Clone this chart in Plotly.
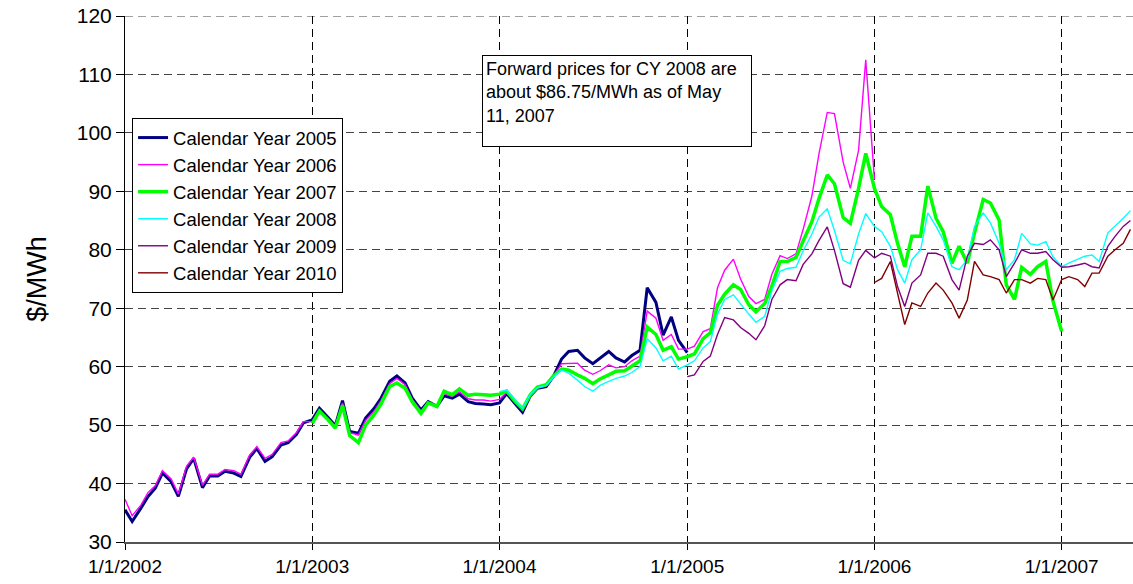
import pandas as pd
import plotly.graph_objects as go

# semi-monthly forward prices ($/MWh) (1st and 15th of each month)
cy2005_start = "2002-01-01"
cy2005 = [
    35.5, 33.5, 35.8, 37.8, 39.2, 41.8, 40.3, 37.8, 42.5, 44.3, 39.3, 41.3,
    41.3, 42.1, 41.8, 41.2, 44.5, 46.0, 43.8, 44.6, 46.6, 47.0, 48.4, 50.4,
    50.9, 52.9, 51.3, 49.9, 54.2, 48.9, 48.6, 51.2, 52.8, 54.6, 57.5, 58.4,
    57.2, 54.6, 52.6, 54.0, 53.2, 55.0, 54.6, 55.3, 54.0, 53.7, 53.6, 53.5,
    53.8, 55.4, 53.6, 52.2, 55.0, 56.3, 56.6, 58.3, 61.3, 62.6, 62.8, 61.5,
    60.5, 61.4, 62.6, 61.5, 60.8, 61.9, 62.8, 73.5, 71.0, 65.4, 68.5, 64.5,
    62.4,
]

cy2006_start = "2002-01-01"
cy2006 = [
    37.3, 34.5, 36.3, 38.5, 39.6, 42.2, 40.8, 38.2, 43.0, 44.5, 39.7, 41.6,
    41.6, 42.4, 42.2, 41.6, 44.9, 46.3, 44.3, 45.0, 47.0, 47.3, 48.7, 50.6,
    50.6, 52.6, 51.1, 49.8, 53.8, 48.7, 48.3, 50.8, 52.3, 54.2, 57.1, 58.0,
    56.9, 54.4, 52.4, 53.9, 53.2, 55.4, 54.9, 55.7, 54.5, 54.3, 54.3, 54.1,
    54.4, 55.6, 53.8, 52.5, 55.0, 56.4, 56.7, 58.3, 60.5, 60.5, 60.6, 59.4,
    58.7, 59.3, 60.3, 59.8, 60.0, 61.0, 61.8, 69.5, 68.3, 64.5, 65.5, 63.0,
    63.0, 63.5, 66.0, 66.5, 73.5, 76.5, 78.4, 75.0, 72.0, 70.8, 71.5, 75.8,
    79.0, 78.5, 79.3, 83.5, 89.2, 96.5, 103.5, 103.3, 95.0, 90.5, 97.0, 112.5,
    92.0,
]

cy2007_start = "2003-01-01"
cy2007 = [
    50.3, 52.4, 50.9, 49.5, 53.4, 48.2, 47.0, 50.0, 51.7, 53.6, 56.6, 57.2,
    56.3, 54.0, 52.0, 53.8, 53.2, 55.8, 55.2, 56.2, 55.1, 55.3, 55.2, 55.1,
    55.3, 55.8, 54.0, 52.8, 55.2, 56.5, 56.9, 58.4, 59.6, 59.4, 58.6, 58.0,
    57.1, 57.9, 58.6, 59.2, 59.3, 60.1, 61.0, 66.8, 65.5, 62.8, 63.4, 61.3,
    61.7, 62.2, 64.8, 65.8, 70.5, 72.4, 74.0, 73.2, 70.6, 69.4, 70.8, 73.8,
    78.0, 78.0, 78.7, 81.5, 84.8, 88.8, 92.8, 91.3, 85.5, 84.5, 90.5, 96.5,
    90.5, 87.4, 86.0, 81.1, 77.1, 82.3, 82.3, 90.9, 85.4, 83.1, 77.7, 80.6,
    77.7, 82.9, 88.6, 88.0, 85.1, 74.0, 71.5, 77.0, 75.8, 77.1, 78.0, 71.2,
    66.0,
]

cy2008_start = "2004-01-01"
cy2008 = [
    55.7, 56.0, 54.2, 52.9, 55.3, 56.4, 56.8, 58.2, 59.4, 58.9, 57.7, 56.6,
    55.8, 56.8, 57.5, 58.0, 58.4, 59.0, 60.0, 64.8, 63.2, 61.0, 61.8, 59.6,
    60.3, 61.0, 63.2, 64.3, 69.0, 71.5, 72.3, 70.7, 69.0, 67.6, 68.6, 73.0,
    76.3, 76.8, 77.0, 79.8, 82.7, 85.6, 87.0, 83.3, 78.2, 77.6, 82.7, 86.2,
    84.0, 83.1, 80.6, 76.6, 74.3, 78.3, 80.0, 86.3, 84.0, 81.7, 77.1, 76.6,
    78.3, 84.0, 86.3, 84.6, 81.1, 76.6, 78.3, 82.8, 81.0, 80.8, 81.4, 78.8,
    77.1, 77.7, 78.3, 78.9, 79.1, 78.0, 82.9, 84.0, 85.4, 86.7,
]

cy2009_start = "2005-01-01"
cy2009 = [
    58.3, 58.6, 60.9, 61.8, 65.5, 68.4, 68.0, 66.7, 65.7, 64.6, 67.0, 71.5,
    74.0, 74.9, 74.7, 77.5, 79.3, 81.6, 83.9, 79.9, 74.2, 73.6, 78.2, 79.9,
    78.6, 79.4, 78.9, 73.7, 70.3, 74.3, 75.7, 79.4, 79.4, 78.9, 74.9, 73.1,
    78.9, 81.1, 80.9, 81.7, 80.0, 75.4, 77.7, 80.0, 79.4, 79.4, 79.7, 78.3,
    77.0, 77.1, 77.4, 77.7, 77.1, 76.9, 80.6, 82.3, 84.0, 85.0,
]

cy2010_start = "2006-01-01"
cy2010 = [
    74.4, 75.1, 78.0, 72.6, 67.2, 70.9, 70.3, 72.6, 74.3, 73.1, 70.9, 68.3,
    71.4, 78.0, 75.7, 75.4, 74.9, 72.6, 74.9, 74.9, 74.3, 75.1, 74.9, 71.4,
    74.9, 75.4, 74.9, 73.7, 76.0, 76.0, 78.9, 80.0, 81.1, 83.5,
]

tick_dates = ["2002-01-01", "2003-01-01", "2004-01-01", "2005-01-01", "2006-01-01", "2007-01-01"]
tick_labels = ["1/1/2002", "1/1/2003", "1/1/2004", "1/1/2005", "1/1/2006", "1/1/2007"]

note = "Forward prices for CY 2008 are<br>about $86.75/MWh as of May<br>11, 2007"

series = [
    ("Calendar Year 2005", cy2005_start, cy2005, "#000080", 3),
    ("Calendar Year 2006", cy2006_start, cy2006, "#FF00FF", 1.4),
    ("Calendar Year 2007", cy2007_start, cy2007, "#00FF00", 3.5),
    ("Calendar Year 2008", cy2008_start, cy2008, "#00FFFF", 1.4),
    ("Calendar Year 2009", cy2009_start, cy2009, "#800080", 1.4),
    ("Calendar Year 2010", cy2010_start, cy2010, "#800000", 1.4),
]

fig = go.Figure()
for name, start, vals, color, width in series:
    dates = pd.date_range(start, periods=len(vals), freq="SMS")
    fig.add_trace(
        go.Scatter(x=dates, y=vals, mode="lines", name=name,
                   line=dict(color=color, width=width))
    )

fig.add_annotation(
    text=note, xref="paper", yref="paper", x=0.354, y=0.926,
    xanchor="left", yanchor="top", align="left", valign="top",
    showarrow=False, width=262, height=84,
    bordercolor="black", borderwidth=1, borderpad=3, bgcolor="white",
    font=dict(size=18, color="black"),
)

# dashed top edge at 120 (plotly drops the gridline that sits on the plot border)
fig.add_shape(
    type="line", xref="paper", yref="y", x0=0, x1=1, y0=120, y1=120,
    line=dict(color="#444444", width=1, dash="8px,5px"), layer="below",
)

fig.update_xaxes(
    range=["2002-01-01", "2007-05-20"],
    tickvals=tick_dates, ticktext=tick_labels,
    showgrid=True, gridcolor="black", griddash="8px,5px", gridwidth=1,
    showline=True, linecolor="#555555", linewidth=2,
    ticks="outside", ticklen=6, tickcolor="black",
    tickfont=dict(size=19, color="black"),
)
fig.update_yaxes(
    range=[30, 120], dtick=10,
    showgrid=True, gridcolor="#444444", griddash="8px,5px", gridwidth=1,
    showline=True, linecolor="black", linewidth=1, zeroline=False,
    ticks="outside", ticklen=8, tickcolor="black",
    tickfont=dict(size=21, color="black"),
    title=dict(text="$/MWh", font=dict(size=27, color="black"), standoff=22),
)

fig.update_layout(
    width=1133, height=584,
    margin=dict(l=125, r=0, t=16, b=42),
    plot_bgcolor="white", paper_bgcolor="white",
    font=dict(family="Liberation Sans, Arial, sans-serif", color="black"),
    legend=dict(
        x=0.007, y=0.806, xanchor="left", yanchor="top",
        bgcolor="white", bordercolor="black", borderwidth=1,
        font=dict(size=18.5), tracegroupgap=0,
    ),
)

# drop the default 8px body margin so the figure fills the window exactly
fig.write_html(
    "out.html",
    config={"displayModeBar": False},
    post_script="document.body.style.margin = '0';",
)
